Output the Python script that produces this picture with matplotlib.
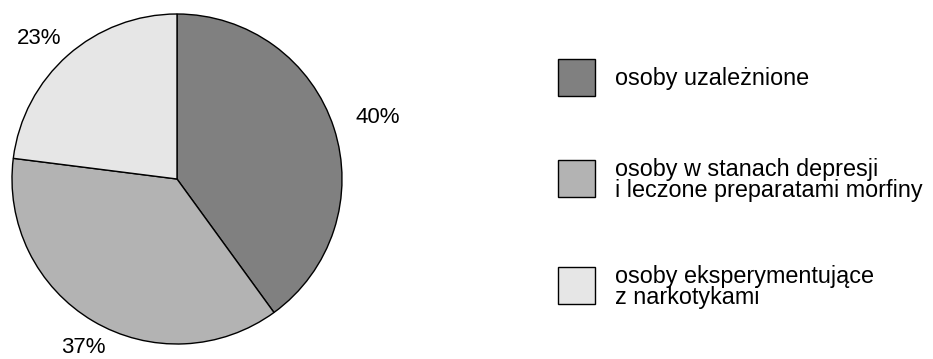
import numpy as np
import matplotlib.pyplot as plt
from matplotlib.patches import Rectangle

plt.rcParams["font.family"] = ["Liberation Sans", "DejaVu Sans"]

shares = [40, 37, 23]
labels = [
    "osoby uzależnione",
    "osoby w stanach depresji\ni leczone preparatami morfiny",
    "osoby eksperymentujące\nz narkotykami",
]
colors = ["#808080", "#b3b3b3", "#e6e6e6"]

W, H = 933, 359
fig = plt.figure(figsize=(W / 100, H / 100), dpi=100)

# pie axes: circle spans x 12..342, y 14..344 (pixels from top)
ax = fig.add_axes([12 / W, (H - 344) / H, 330 / W, 330 / H])
wedges, _ = ax.pie(
    shares,
    colors=colors,
    startangle=90,
    counterclock=False,
    wedgeprops={"edgecolor": "black", "linewidth": 1.0},
)
ax.set_xlim(-1, 1)
ax.set_ylim(-1, 1)
ax.set_aspect("equal")
ax.axis("off")

# percentage labels outside the slices
label_dist = [1.27, 1.17, 1.19]
angle_nudge = [-1, 1.5, 3]
for w, s, d, da in zip(wedges, shares, label_dist, angle_nudge):
    mid = np.deg2rad((w.theta1 + w.theta2) / 2 + da)
    ax.text(d * np.cos(mid), d * np.sin(mid), f"{s}%", fontsize=16,
            ha="center", va="center", clip_on=False)

# legend drawn by hand
box_tops = [59, 160, 267]
for top, lab, col in zip(box_tops, labels, colors):
    fig.patches.append(
        Rectangle(
            (558 / W, (H - top - 37) / H), 37 / W, 37 / H,
            transform=fig.transFigure, facecolor=col, edgecolor="black",
            linewidth=1.0,
        )
    )
    fig.text(615 / W, (H - top - 20) / H, lab, fontsize=16.8,
             va="center", ha="left", linespacing=0.86)

fig.savefig("out.png", dpi=100, facecolor="white")
